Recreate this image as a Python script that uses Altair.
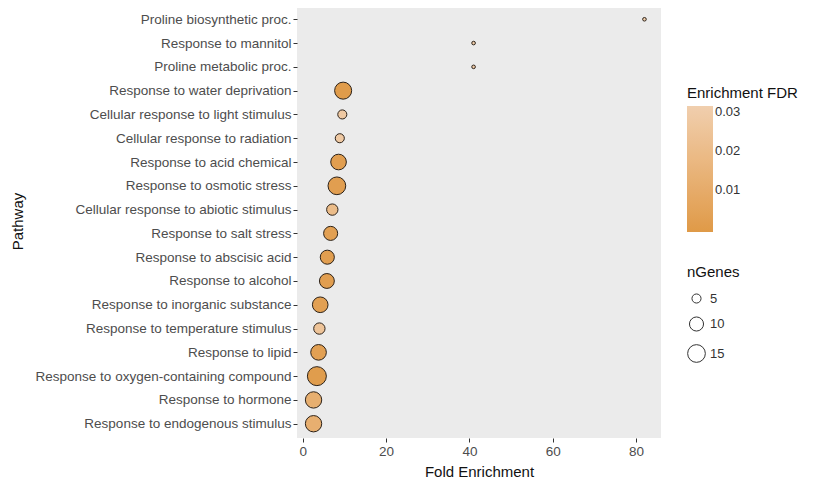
import altair as alt
import pandas as pd

pathways = [
    "Proline biosynthetic proc.",
    "Response to mannitol",
    "Proline metabolic proc.",
    "Response to water deprivation",
    "Cellular response to light stimulus",
    "Cellular response to radiation",
    "Response to acid chemical",
    "Response to osmotic stress",
    "Cellular response to abiotic stimulus",
    "Response to salt stress",
    "Response to abscisic acid",
    "Response to alcohol",
    "Response to inorganic substance",
    "Response to temperature stimulus",
    "Response to lipid",
    "Response to oxygen-containing compound",
    "Response to hormone",
    "Response to endogenous stimulus",
]
fold_enrichment = [82.0, 41.0, 41.0, 9.7, 9.5, 8.9, 8.6, 8.2, 7.1, 6.7, 5.9, 5.8, 4.2, 4.0, 3.8, 3.4, 2.6, 2.6]
n_genes = [2, 2, 2, 14, 5, 5, 12, 15, 7, 10, 10, 11, 12, 7, 12, 17, 13, 13]
fdr = [0.031, 0.030, 0.030, 0.0005, 0.028, 0.028, 0.002, 0.002, 0.020, 0.003, 0.002, 0.002,
       0.003, 0.025, 0.003, 0.001, 0.012, 0.012]

df = pd.DataFrame({
    "Pathway": pathways,
    "Fold Enrichment": fold_enrichment,
    "nGenes": n_genes,
    "Enrichment FDR": fdr,
})

chart = alt.Chart(df).mark_point(
    filled=True, shape="circle", stroke="#2b2118", strokeWidth=1, opacity=1
).encode(
    x=alt.X("Fold Enrichment:Q",
            scale=alt.Scale(domain=[-1.37, 85.97], nice=False, zero=False),
            axis=alt.Axis(values=[0, 20, 40, 60, 80], title="Fold Enrichment", titlePadding=7)),
    y=alt.Y("Pathway:N", sort=pathways,
            scale=alt.Scale(type="point", padding=0.6),
            axis=alt.Axis(title="Pathway", titleX=-272, titleY=216, titleAngle=270)),
    fill=alt.Fill("Enrichment FDR:Q",
                  scale=alt.Scale(domain=[-0.0007, 0.0315], range=["#DF9A47", "#F0CFAE"], nice=False, zero=False),
                  legend=alt.Legend(values=[0.01, 0.02, 0.03], gradientLength=126, gradientThickness=26,
                                    labelExpr="format(datum.value, '.2f')", orient="none",
                                    legendX=386, legendY=77)),
    size=alt.Size("nGenes:Q",
                  scale=alt.Scale(domain=[2, 17], range=[13, 360], zero=False),
                  legend=alt.Legend(values=[5, 10, 15], symbolFillColor="transparent",
                                    symbolStrokeColor="#333333", symbolStrokeWidth=1,
                                    symbolType="circle", orient="none", titlePadding=12,
                                    rowPadding=8, legendX=386, legendY=256)),
).properties(
    width=364, height=433,
    padding={"left": 2, "top": -3, "right": 5, "bottom": 5}
).configure_view(
    fill="#EBEBEB", stroke=None
).configure_axis(
    grid=False, domain=False, tickColor="#333333", tickSize=4,
    labelColor="#4D4D4D", labelFont="Liberation Sans", labelFontSize=13.5, labelLimit=400,
    titleFont="Liberation Sans", titleFontSize=15, titleFontWeight="normal", titleColor="#111111",
).configure_legend(
    titleFont="Liberation Sans", titleFontSize=15, titleFontWeight="normal", titleColor="#111111",
    labelFont="Liberation Sans", labelFontSize=13, labelColor="#333333", padding=4,
    rowPadding=6
)

chart.save("out.html", embed_options={"renderer": "svg", "actions": False})
